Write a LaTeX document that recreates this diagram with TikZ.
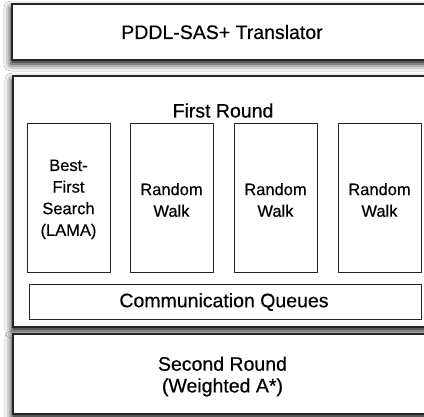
\documentclass[tikz,border=0pt]{standalone}
\usepackage{fontspec}
\setmainfont[FakeBold=0.5]{Liberation Sans}
\usetikzlibrary{shadows.blur}

\begin{document}
\begin{tikzpicture}[x=1bp, y=-1bp,
  stage/.style={draw=black!85, line width=1.1bp, fill=white,
    inner sep=0pt, outer sep=0pt, anchor=north west,
    blur shadow={shadow xshift=-1bp, shadow yshift=-4bp,
      shadow blur radius=7bp, shadow opacity=95}},
  worker/.style={draw=black!85, line width=0.9bp, fill=white,
    inner sep=0pt, outer sep=0pt, anchor=north west},
  bigtext/.style={inner sep=0pt, font=\fontsize{19.5bp}{21.7bp}\selectfont, align=center},
  smalltext/.style={inner sep=0pt, font=\fontsize{16.5bp}{21.6bp}\selectfont, align=center}]

% canvas
\clip (0,0) rectangle (424,417);
\fill[white] (0,0) rectangle (424,417);

% outer stages
\node[stage, minimum width=420bp, minimum height=56bp] (translator) at (12,4) {};
\node[stage, minimum width=419bp, minimum height=251bp] (first) at (13,76) {};
\node[stage, minimum width=419bp, minimum height=80bp] (second) at (13,334) {};

% parallel searches of the first round
\node[worker, minimum width=83bp, minimum height=149bp] (bfs) at (27,123) {};
\node[worker, minimum width=83bp, minimum height=149bp] (rwa) at (130,123) {};
\node[worker, minimum width=83bp, minimum height=149bp] (rwb) at (234,123) {};
\node[worker, minimum width=83bp, minimum height=149bp] (rwc) at (338,123) {};
\node[worker, minimum width=392bp, minimum height=35bp] (queues) at (29,284) {};

% labels
\node[bigtext] (translatortext) at (222,32) {PDDL-SAS+ Translator};
\node[bigtext] (firsttext) at (223,110.5) {First Round};
\node[bigtext] (secondtext) at (222.5,376.5) {Second Round\\(Weighted A*)};
\node[bigtext] (queuestext) at (224,302) {Communication Queues};
\node[smalltext] (bfstext) at (68.5,199.4) {Best-\\First\\Search\\(LAMA)};
\node[smalltext] (rwatext) at (171.5,200) {Random\\Walk};
\node[smalltext] (rwbtext) at (275.5,200) {Random\\Walk};
\node[smalltext] (rwctext) at (379.5,200) {Random\\Walk};
\end{tikzpicture}
\end{document}
